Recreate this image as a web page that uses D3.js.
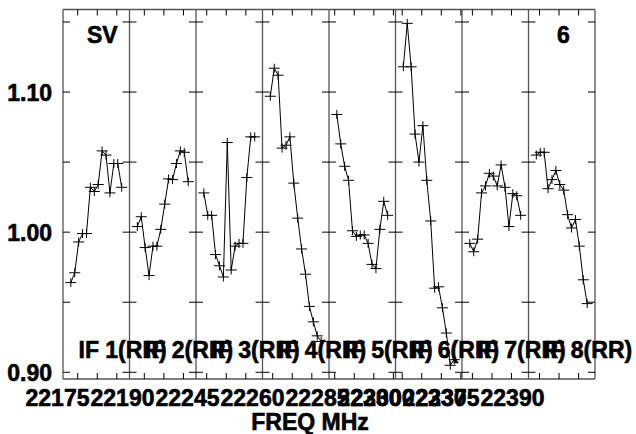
<!DOCTYPE html>
<html><head><meta charset="utf-8">
<script src="https://cdn.jsdelivr.net/npm/d3@7"></script>
<style>
body{margin:0;background:#fff}
text{font-family:"Liberation Sans",Arial,Helvetica,sans-serif;font-weight:bold;font-size:23px;fill:#000;stroke:#000;stroke-width:0.6px}
</style>
</head><body><svg id="c" width="636" height="434"></svg>
<script>
// ---- data ----
const panelLabels = ["IF 1(RR)","IF 2(RR)","IF 3(RR)","IF 4(RR)","IF 5(RR)","IF 6(RR)","IF 7(RR)","IF 8(RR)"];
const channels = [1,2,3,4,5,6,7,8,9,10,11,12,13,14];
const if1Values = [0.964,0.971,0.993,0.999,0.999,1.032,1.029,1.034,1.058,1.055,1.028,1.049,1.049,1.032];
const if2Values = [1.004,1.011,0.989,0.969,0.990,0.990,1.002,1.020,1.038,1.0375,1.049,1.058,1.057,1.036];
const if3Values = [1.028,1.012,1.012,0.984,0.976,0.968,1.064,0.973,0.990,0.992,0.992,1.039,1.068,1.068];
const if4Values = [1.097,1.117,1.112,1.060,1.062,1.068,1.035,1.010,0.988,0.970,0.947,0.936,0.926,0.922];
const if5Values = [1.084,1.063,1.047,1.037,1.001,0.997,0.998,0.998,0.992,0.977,0.974,1.002,1.022,1.012];
const if6Values = [1.118,1.149,1.118,1.070,1.050,1.076,1.037,1.008,0.960,0.961,0.946,0.928,0.905,0.909];
const if7Values = [0.992,0.986,0.995,1.028,1.033,1.042,1.040,1.033,1.048,1.032,1.004,1.0275,1.026,1.012];
const if8Values = [1.055,1.057,1.057,1.031,1.0375,1.044,1.034,1.030,1.0125,1.003,1.009,0.990,0.966,0.949];
const panelStartFreqs = [22172.24,22187.21,22243.26,22258.39,22284.54,22299.29,22373.34,22388.19]; // MHz at channel 0
const channelWidth = 1.0; // MHz
const yTicks = [0.90,0.95,1.00,1.05,1.10,1.15];
const yTickLabels = [0.90,1.00,1.10];
const xTickLabels = ["22175","22190","22245","22260","22285","22300","22375","22390"];
const xExtraLabels = [{text:"22300", slot:4.8},{text:"22330", slot:5.8}];
const sourceName = "SV";
const plotNumber = "6";
const xTitle = "FREQ MHz";

// ---- layout ----
const W = 636, H = 434;
const margin = {left:63, right:41, top:9.5, bottom:55};
const svg = d3.select("#c");
svg.append("rect").attr("width",W).attr("height",H).attr("fill","#fff");

const allValues = [if1Values,if2Values,if3Values,if4Values,if5Values,if6Values,if7Values,if8Values];
const x0 = margin.left, x1 = W - margin.right, yTop = margin.top, yBot = H - margin.bottom;

const panelScale = d3.scaleBand().domain(d3.range(panelLabels.length)).range([x0, x1]).padding(0);
const bw = panelScale.bandwidth();
const y = d3.scaleLinear().domain([0.8952, 1.1589]).range([yBot, yTop]);

const g = svg.append("g");

// panel separators and frame
const bounds = d3.range(panelLabels.length + 1).map(i => x0 + i * bw);
g.selectAll("line.sep").data(bounds).join("line")
  .attr("x1", d => d).attr("x2", d => d).attr("y1", yTop).attr("y2", yBot)
  .attr("stroke", "#555").attr("stroke-width", 1.3);
g.append("line").attr("x1", x0).attr("x2", x1).attr("y1", yTop).attr("y2", yTop).attr("stroke","#555").attr("stroke-width",1.3);
g.append("line").attr("x1", x0).attr("x2", x1).attr("y1", yBot).attr("y2", yBot).attr("stroke","#555").attr("stroke-width",1.3);

// y ticks at each boundary
const tl = 7;
bounds.forEach(b => {
  yTicks.forEach(t => {
    g.append("line")
      .attr("x1", Math.max(x0, b - tl)).attr("x2", Math.min(x1, b + tl))
      .attr("y1", y(t)).attr("y2", y(t))
      .attr("stroke", "#000").attr("stroke-width", 1);
  });
});

// per panel
allValues.forEach((vals, i) => {
  const left = panelScale(i);
  const f0 = panelStartFreqs[i];
  const fx = d3.scaleLinear().domain([f0 - channelWidth, f0 + 16 * channelWidth]).range([left, left + bw]);
  const ticks = d3.range(Math.ceil((f0 - channelWidth) / 5) * 5, f0 + 16 * channelWidth, 5);
  ticks.forEach(t => {
    const xx = fx(t);
    g.append("line").attr("x1", xx).attr("x2", xx).attr("y1", yTop).attr("y2", yTop + 6).attr("stroke","#000");
    g.append("line").attr("x1", xx).attr("x2", xx).attr("y1", yBot - 6).attr("y2", yBot).attr("stroke","#000");
  });
  const pts = channels.map((c, k) => ({f: f0 + c * channelWidth, v: vals[k]}));
  const line = d3.line().x(d => fx(d.f)).y(d => y(d.v));
  g.append("path").attr("d", line(pts)).attr("fill","none").attr("stroke","#000").attr("stroke-width",1);
  g.selectAll(null).data(pts).join("path")
    .attr("d", d => { const px = fx(d.f), py = y(d.v); return `M${px-5.5},${py}H${px+5.5}M${px},${py-4.5}V${py+4.5}`; })
    .attr("stroke","#000").attr("stroke-width",1).attr("fill","none");
  g.append("text").attr("x", left + 15.5).attr("y", 357.5).text(panelLabels[i]);
});

// y tick labels
g.selectAll("text.yl").data(yTickLabels).join("text")
  .attr("x", 52).attr("y", d => y(d) + 8.5).attr("text-anchor","end")
  .text(d => d.toFixed(2));

// x tick labels
const slot = d3.scaleLinear().domain([0, xTickLabels.length - 1]).range([57.5, 512.5]);
g.selectAll("text.xl").data(xTickLabels).join("text")
  .attr("x", (d, i) => slot(i)).attr("y", 406).attr("text-anchor","middle").text(d => d);
g.selectAll("text.xe").data(xExtraLabels).join("text")
  .attr("x", d => slot(d.slot)).attr("y", 406).attr("text-anchor","middle").text(d => d.text);

// titles
g.append("text").attr("x", 310).attr("y", 430).attr("text-anchor","middle").text(xTitle);
g.append("text").attr("x", x0 + 24).attr("y", 43).text(sourceName);
g.append("text").attr("x", x1 - 38).attr("y", 43).text(plotNumber);
</script>
</body></html>
